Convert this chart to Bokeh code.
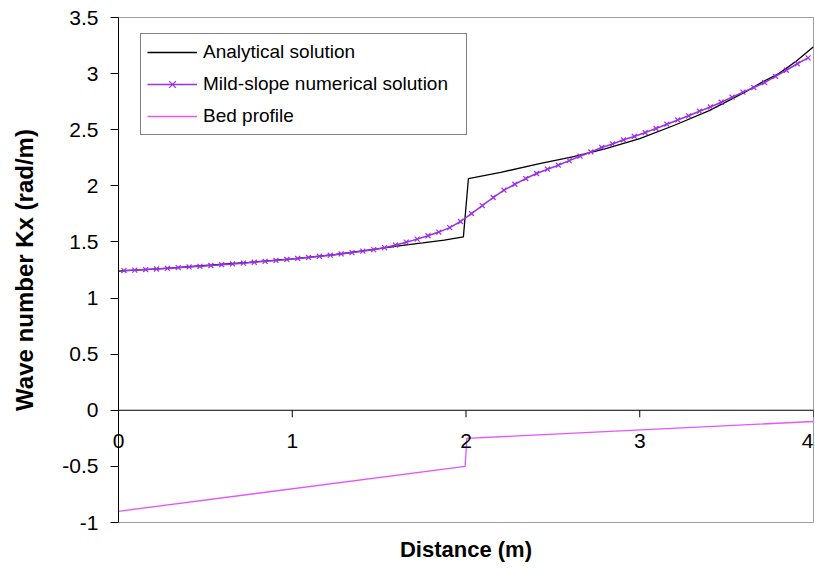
import math
from bokeh.plotting import figure
from bokeh.models import (Range1d, FixedTicker, Legend, LegendItem, Label, Span)
from bokeh.embed import file_html
from bokeh.resources import INLINE

# ---- data ----
ana_x = [0.0, 0.25, 0.5, 0.75, 1.0, 1.25, 1.5, 1.625, 1.75, 1.875, 1.985,
         2.014, 2.2, 2.43, 2.62, 2.8, 3.0, 3.2, 3.4, 3.6, 3.7, 3.8, 3.9, 4.0]
ana_y = [1.24, 1.262, 1.29, 1.318, 1.35, 1.388, 1.44, 1.468, 1.492, 1.517, 1.545,
         2.065, 2.12, 2.20, 2.26, 2.33, 2.42, 2.54, 2.67, 2.83, 2.92, 3.0, 3.11, 3.24]

num_x = [0.03125, 0.09375, 0.15625, 0.21875, 0.28125, 0.34375, 0.40625, 0.46875,
         0.53125, 0.59375, 0.65625, 0.71875, 0.78125, 0.84375, 0.90625, 0.96875,
         1.03125, 1.09375, 1.15625, 1.21875, 1.28125, 1.34375, 1.40625, 1.46875,
         1.53125, 1.59375, 1.65625, 1.71875, 1.78125, 1.84375, 1.90625, 1.96875,
         2.03125, 2.09375, 2.15625, 2.21875, 2.28125, 2.34375, 2.40625, 2.46875,
         2.53125, 2.59375, 2.65625, 2.71875, 2.78125, 2.84375, 2.90625, 2.96875,
         3.03125, 3.09375, 3.15625, 3.21875, 3.28125, 3.34375, 3.40625, 3.46875,
         3.53125, 3.59375, 3.65625, 3.71875, 3.78125, 3.84375, 3.90625, 3.96875]
num_y = [1.245, 1.249, 1.254, 1.259, 1.265, 1.271, 1.277, 1.283,
         1.290, 1.297, 1.304, 1.311, 1.319, 1.327, 1.335, 1.344,
         1.353, 1.362, 1.372, 1.382, 1.393, 1.405, 1.418, 1.432,
         1.449, 1.472, 1.498, 1.525, 1.555, 1.588, 1.628, 1.682,
         1.753, 1.824, 1.896, 1.961, 2.014, 2.065, 2.110, 2.148,
         2.184, 2.225, 2.264, 2.302, 2.342, 2.373, 2.410, 2.440,
         2.475, 2.511, 2.549, 2.587, 2.624, 2.665, 2.703, 2.745,
         2.790, 2.835, 2.876, 2.920, 2.975, 3.030, 3.088, 3.140]

bed_x = [0.0, 1.995, 2.005, 4.0]
bed_y = [-0.9, -0.5, -0.25, -0.1]

x_ticks = [0, 1, 2, 3, 4]
x_tick_labels = ["0", "1", "2", "3", "4"]
y_ticks = [-1, -0.5, 0, 0.5, 1, 1.5, 2, 2.5, 3, 3.5]
y_tick_labels = ["-1", "-0.5", "0", "0.5", "1", "1.5", "2", "2.5", "3", "3.5"]
x_axis_level = 0

FONT = "Liberation Sans"
NUM_COLOR = "#9B30E8"
BED_COLOR = "#E455FF"

p = figure(width=815, height=568, output_backend="svg", toolbar_location=None,
           x_range=Range1d(0, 4), y_range=Range1d(-1, 3.5),
           min_border_left=118, min_border_right=2, min_border_top=17,
           min_border_bottom=46)
p.grid.visible = False
p.outline_line_color = "#A0A0A0"
p.outline_line_width = 1
p.background_fill_color = "white"
p.border_fill_color = "white"

# x axis line at y = 0 with downward ticks
p.add_layout(Span(location=x_axis_level, dimension="width", line_color="black",
                  line_width=1))
p.ray(x=x_ticks, y=[x_axis_level] * len(x_ticks), length=7, length_units="screen",
      angle=-math.pi / 2, line_color="black", line_width=1)

# lines
r_bed = p.line(bed_x, bed_y, line_color=BED_COLOR, line_width=1.3)
r_ana = p.line(ana_x, ana_y, line_color="black", line_width=1.3)
r_num_l = p.line(num_x, num_y, line_color=NUM_COLOR, line_width=1.5)
r_num_m = p.scatter(num_x, num_y, marker="x", size=7, line_color=NUM_COLOR,
                    line_width=1.2)

# below axis: carries tick labels (lifted up next to the y=0 line) and title
xa = p.xaxis[0]
xa.ticker = FixedTicker(ticks=x_ticks[:-1])
xa.major_label_overrides = {t: s for t, s in zip(x_ticks[:-1], x_tick_labels[:-1])}
xa.axis_line_color = None
xa.major_tick_line_color = None
xa.minor_tick_line_color = None
xa.major_tick_in = 0
xa.major_tick_out = 0
xa.major_label_standoff = -89
xa.major_label_text_font = FONT
xa.major_label_text_font_size = "21px"
xa.major_label_text_color = "black"
xa.axis_label = "Distance (m)"
xa.axis_label_standoff = 86
xa.axis_label_text_font = FONT
xa.axis_label_text_font_size = "22px"
xa.axis_label_text_font_style = "bold"
xa.axis_label_text_color = "black"

# last tick label kept inside the canvas
p.add_layout(Label(x=x_ticks[-1], y=x_axis_level, text=x_tick_labels[-1],
                   x_offset=-6, y_offset=-31, text_align="center",
                   text_baseline="middle", text_font=FONT, text_font_size="21px",
                   text_color="black"))

ya = p.yaxis[0]
ya.ticker = FixedTicker(ticks=y_ticks)
ya.major_label_overrides = {t: s for t, s in zip(y_ticks, y_tick_labels)}
ya.minor_tick_line_color = None
ya.major_tick_in = 0
ya.major_tick_out = 8
ya.major_label_standoff = 12
ya.major_label_text_font = FONT
ya.major_label_text_font_size = "21px"
ya.major_label_text_color = "black"
ya.axis_line_color = "black"
ya.major_tick_line_color = "black"
ya.axis_label = "Wave number Kx (rad/m)"
ya.axis_label_text_font = FONT
ya.axis_label_text_font_size = "24px"
ya.axis_label_text_font_style = "bold"
ya.axis_label_text_color = "black"
ya.axis_label_standoff = 21

legend = Legend(items=[
    LegendItem(label="Analytical solution", renderers=[r_ana]),
    LegendItem(label="Mild-slope numerical solution", renderers=[r_num_l, r_num_m]),
    LegendItem(label="Bed profile", renderers=[r_bed]),
], location=(22, 387), margin=0, padding=6, spacing=8,
    glyph_width=50, glyph_height=24, label_height=24, label_width=257,
    label_standoff=6, border_line_color="black", border_line_width=1,
    label_text_font=FONT, label_text_font_size="19px", label_text_color="black",
    background_fill_color="white", background_fill_alpha=1.0)
p.add_layout(legend)

open("out.html", "w").write(file_html(p, INLINE))
